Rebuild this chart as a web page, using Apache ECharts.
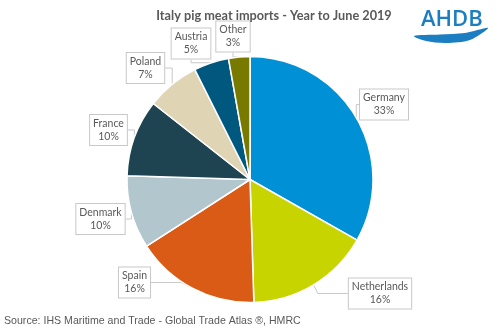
<!DOCTYPE html>
<html>
<head>
<meta charset="utf-8">
<script src="https://cdn.jsdelivr.net/npm/echarts@6/dist/echarts.min.js"></script>
<style>html,body{margin:0;padding:0;background:#fff}#c{width:500px;height:333px}</style>
</head>
<body>
<div id="c"></div>
<script>
// ---- data ----
const countries = ['Germany', 'Netherlands', 'Spain', 'Denmark', 'France', 'Poland', 'Austria', 'Other'];
const shares = [33.2, 16.3, 16.4, 9.6, 10.1, 7.0, 4.6, 2.8];
const colors = ['#0090D5', '#C8D400', '#DA5B16', '#B2C6CD', '#1E4452', '#DFD5B5', '#00587F', '#787A00'];
const titleText = 'Italy pig meat imports - Year to June 2019';
const sourceText = 'Source: IHS Maritime and Trade - Global Trade Atlas \u00AE, HMRC';

// ---- layout (label box centres, px) ----
const labelCentres = [[384, 104.5], [380, 293.5], [134.5, 282.5], [100.5, 219], [108.5, 130], [145.5, 68], [191, 43.5], [233, 36.5]];

const chart = echarts.init(document.getElementById('c'), null, { renderer: 'canvas' });
chart.setOption({
  animation: false,
  title: {
    text: titleText,
    left: 269, top: 4, textAlign: 'center',
    textStyle: { fontFamily: 'Lato', fontWeight: 'bold', fontSize: 12.7, color: '#595959' }
  },
  graphic: [
    { type: 'text', x: 4, y: 316,
      style: { text: sourceText, font: '10.6px "Liberation Sans"', fill: '#595959' } },
    { type: 'text', x: 421, y: 9,
      style: { text: 'AHDB', font: '600 22px "Open Sans"', fill: '#1B7DC2' } },
    { type: 'polygon',
      shape: { points: [[414, 36], [440, 34.5], [465, 33], [488, 28], [470, 40], [446, 43], [426, 41]], smooth: 0.3 },
      style: { fill: '#1B7DC2' } }
  ],
  series: [{
    type: 'pie',
    center: [250, 179.5],
    radius: 123,
    startAngle: 90,
    clockwise: true,
    data: countries.map((n, i) => ({ name: n, value: shares[i], itemStyle: { color: colors[i] } })),
    itemStyle: { borderColor: '#fff', borderWidth: 1.5 },
    label: {
      show: true,
      position: 'outside',
      formatter: p => p.name + '\n' + Math.round(p.percent) + '%',
      fontFamily: 'Lato', fontSize: 10.5, color: '#595959', lineHeight: 13,
      align: 'center',
      backgroundColor: '#fff', borderColor: '#C8C8C8', borderWidth: 1,
      padding: [2, 3]
    },
    labelLine: { show: true, lineStyle: { color: '#C8C8C8', width: 1 } },
    labelLayout: p => ({
      x: labelCentres[p.dataIndex][0],
      y: labelCentres[p.dataIndex][1],
      align: 'center', verticalAlign: 'middle'
    })
  }]
});
</script>
</body>
</html>
